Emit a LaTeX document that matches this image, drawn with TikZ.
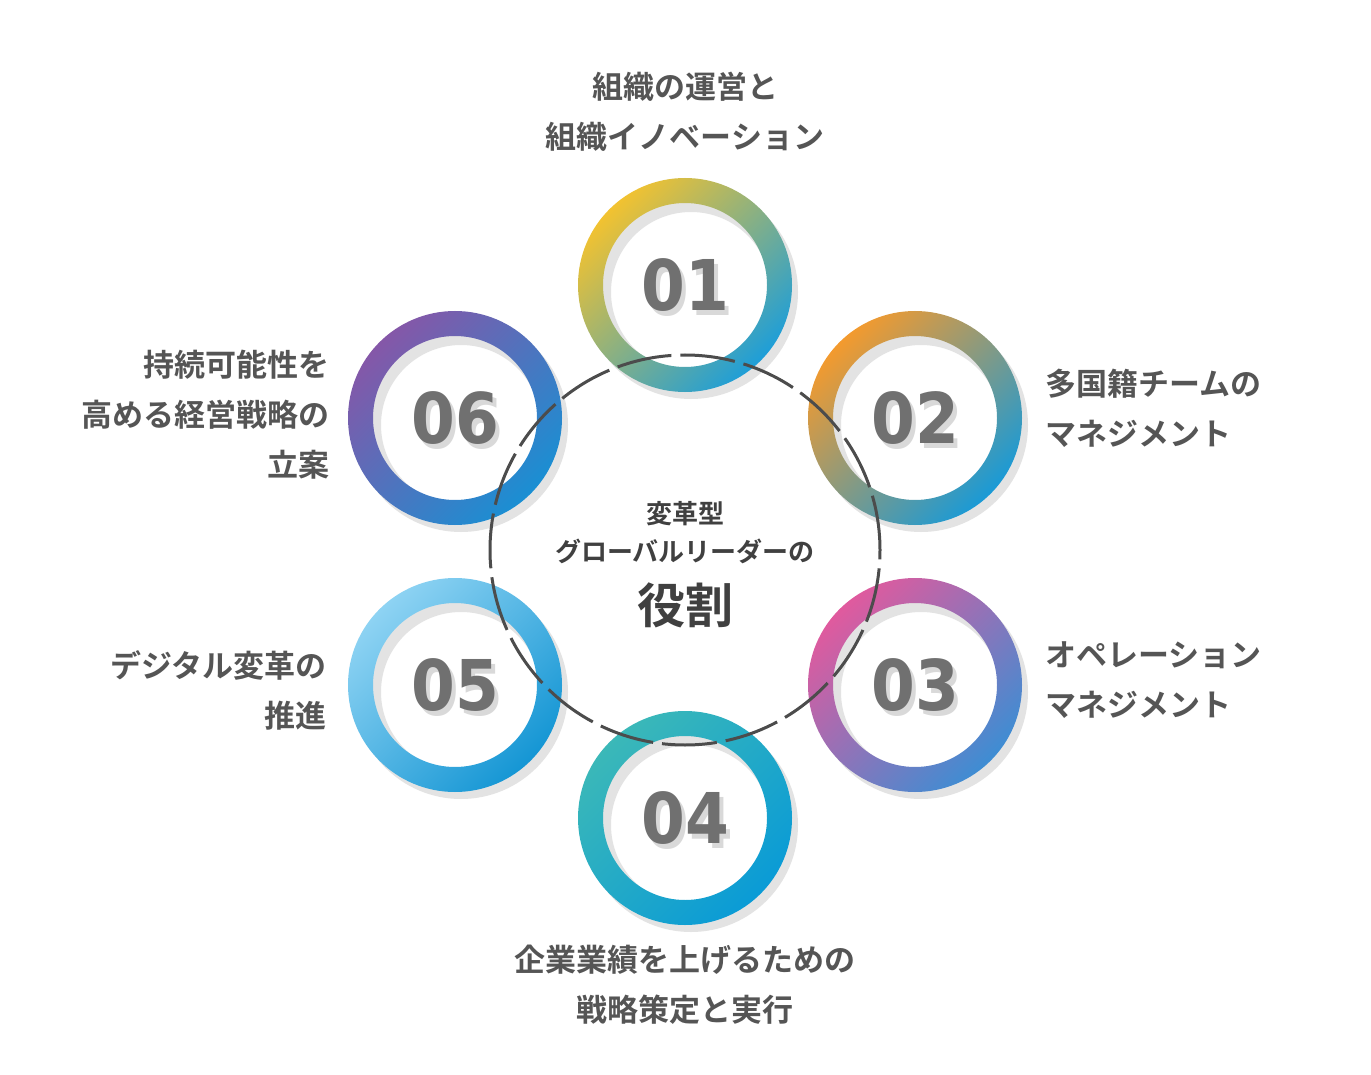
\documentclass[tikz,border=0pt]{standalone}
\usepackage{fontspec}
\newfontfamily\jp{Noto Sans CJK JP}[BoldFont={* Bold}]
\newfontfamily\num{DejaVu Sans Condensed}
\definecolor{txt}{HTML}{555555}
\definecolor{numc}{HTML}{707070}
\definecolor{a1}{HTML}{F2C230}\definecolor{b1}{HTML}{1E9ED8}
\definecolor{a2}{HTML}{F39A2E}\definecolor{b2}{HTML}{1A9AD6}
\definecolor{a3}{HTML}{E05A9E}\definecolor{b3}{HTML}{3E8DD3}
\definecolor{a4}{HTML}{3BB8B8}\definecolor{b4}{HTML}{0A9BD6}
\definecolor{a5}{HTML}{8ED3F3}\definecolor{b5}{HTML}{1596D4}
\definecolor{a6}{HTML}{8557A8}\definecolor{b6}{HTML}{1A8FD3}
\begin{document}
\begin{tikzpicture}[x=1pt,y=-1pt,
 lab/.style={font=\jp\bfseries\fontsize{31}{50}\selectfont,text=txt,inner sep=0pt},
 numlab/.style={font=\num\bfseries\fontsize{70}{70}\selectfont,text=numc,inner sep=0pt}]
\useasboundingbox[fill=white] (0,0) rectangle (1371,1075);
\def\ring#1#2#3#4#5#6{%
 \fill[gray!22,even odd rule] (#1+6,#2+7) circle (107) (#1+6,#2+7) circle (80);
 \shade[even odd rule,left color=#3,right color=#4,shading angle=45] (#1,#2) circle (107) (#1,#2) circle (82);
 \node[numlab,text=gray!30] at (#1+4,#2+5) {#5};
 \node[numlab] (#6) at (#1,#2) {#5};}
\ring{685}{285}{a1}{b1}{01}{n1}
\ring{915}{418}{a2}{b2}{02}{n2}
\ring{915}{685}{a3}{b3}{03}{n3}
\ring{685}{818}{a4}{b4}{04}{n4}
\ring{455}{685}{a5}{b5}{05}{n5}
\ring{455}{418}{a6}{b6}{06}{n6}
\node[draw=gray!60!black,line width=3pt,dash pattern=on 55pt off 9pt,circle,minimum size=390pt] (c) at (685,550) {};
\node[font=\jp\bfseries\fontsize{26}{38}\selectfont,text=black!75,align=center] at (685,533) {変革型\\グローバルリーダーの};
\node[font=\jp\bfseries\fontsize{48}{48}\selectfont,text=black!75] at (685,605) {役割};
\node[lab,align=center] (t1) at (685,112) {組織の運営と\\組織イノベーション};
\node[lab,align=left,anchor=west] (t2) at (1045,408) {多国籍チームの\\マネジメント};
\node[lab,align=left,anchor=west] (t3) at (1045,680) {オペレーション\\マネジメント};
\node[lab,align=center] (t4) at (685,985) {企業業績を上げるための\\戦略策定と実行};
\node[lab,align=right,anchor=east] (t5) at (327,690) {デジタル変革の\\推進};
\node[lab,align=right,anchor=east] (t6) at (330,415) {持続可能性を\\高める経営戦略の\\立案};
\end{tikzpicture}
\end{document}
